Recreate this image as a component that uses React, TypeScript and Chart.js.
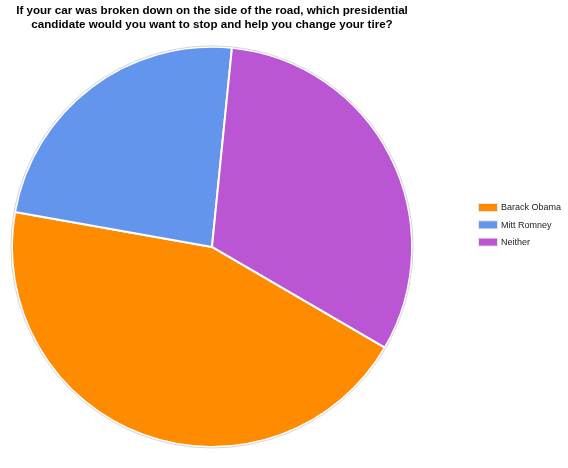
import React, { useEffect, useRef } from "react";
import { Chart, registerables } from "chart.js";

Chart.register(...registerables);

const titleLines = [
  "If your car was broken down on the side of the road, which presidential",
  "candidate would you want to stop and help you change your tire?",
];
const candidates = ["Barack Obama", "Mitt Romney", "Neither"];
const shares = [44.4, 23.8, 31.8];
const sliceColors = ["#FF8C00", "#6495ED", "#BA55D3"];

const FONT = "Arial, 'Liberation Sans', sans-serif";

// Legend drawn at the right of the pie: swatch + label per slice.
const sideLegend = {
  id: "sideLegend",
  afterDraw(chart: Chart) {
    const ctx = chart.ctx;
    const labels = chart.data.labels as string[];
    const colors = chart.data.datasets[0].backgroundColor as string[];
    const x = 479;
    const y0 = 207.5;
    const step = 17.3;
    ctx.save();
    ctx.font = `9px ${FONT}`;
    ctx.textBaseline = "middle";
    ctx.textAlign = "left";
    labels.forEach((label, i) => {
      const y = y0 + i * step;
      ctx.fillStyle = "#e6e6e6";
      ctx.fillRect(x - 1, y - 4.5, 20, 9);
      ctx.fillStyle = colors[i];
      ctx.fillRect(x, y - 3.5, 18, 7);
      ctx.fillStyle = "#222222";
      ctx.fillText(label, x + 22, y + 0.5);
    });
    ctx.restore();
  },
};

// Thin grey ring around the pie.
const pieRim = {
  id: "pieRim",
  afterDatasetsDraw(chart: Chart) {
    const arc = chart.getDatasetMeta(0).data[0] as any;
    if (!arc) return;
    const { x, y, outerRadius } = arc.getProps(["x", "y", "outerRadius"], true);
    const ctx = chart.ctx;
    ctx.save();
    ctx.beginPath();
    ctx.arc(x, y, outerRadius + 1, 0, Math.PI * 2);
    ctx.strokeStyle = "#d4d4dc";
    ctx.lineWidth = 1;
    ctx.stroke();
    ctx.restore();
  },
};

export default function App() {
  const canvasRef = useRef<HTMLCanvasElement | null>(null);

  useEffect(() => {
    document.body.style.margin = "0";
    const canvas = canvasRef.current;
    if (!canvas) return;
    const chart = new Chart(canvas, {
      type: "pie",
      data: {
        labels: candidates,
        datasets: [
          {
            data: shares,
            backgroundColor: sliceColors,
            borderColor: "#ffffff",
            borderWidth: 2,
          },
        ],
      },
      options: {
        animation: false,
        responsive: false,
        rotation: 120.2,
        layout: { padding: { left: 1, right: 145, top: 0, bottom: 20 } },
        plugins: {
          legend: { display: false },
          tooltip: { enabled: false },
          title: {
            display: true,
            text: titleLines,
            color: "#000000",
            font: { family: FONT, size: 11.6, weight: "bold", lineHeight: 1.2 },
            padding: { top: 4, bottom: 14 },
          },
        },
      },
      plugins: [sideLegend, pieRim],
    });
    return () => chart.destroy();
  }, []);

  return (
    <div style={{ position: "fixed", left: 0, top: 0, width: 568, height: 468, background: "#fff" }}>
      <canvas ref={canvasRef} width={568} height={468} />
    </div>
  );
}
